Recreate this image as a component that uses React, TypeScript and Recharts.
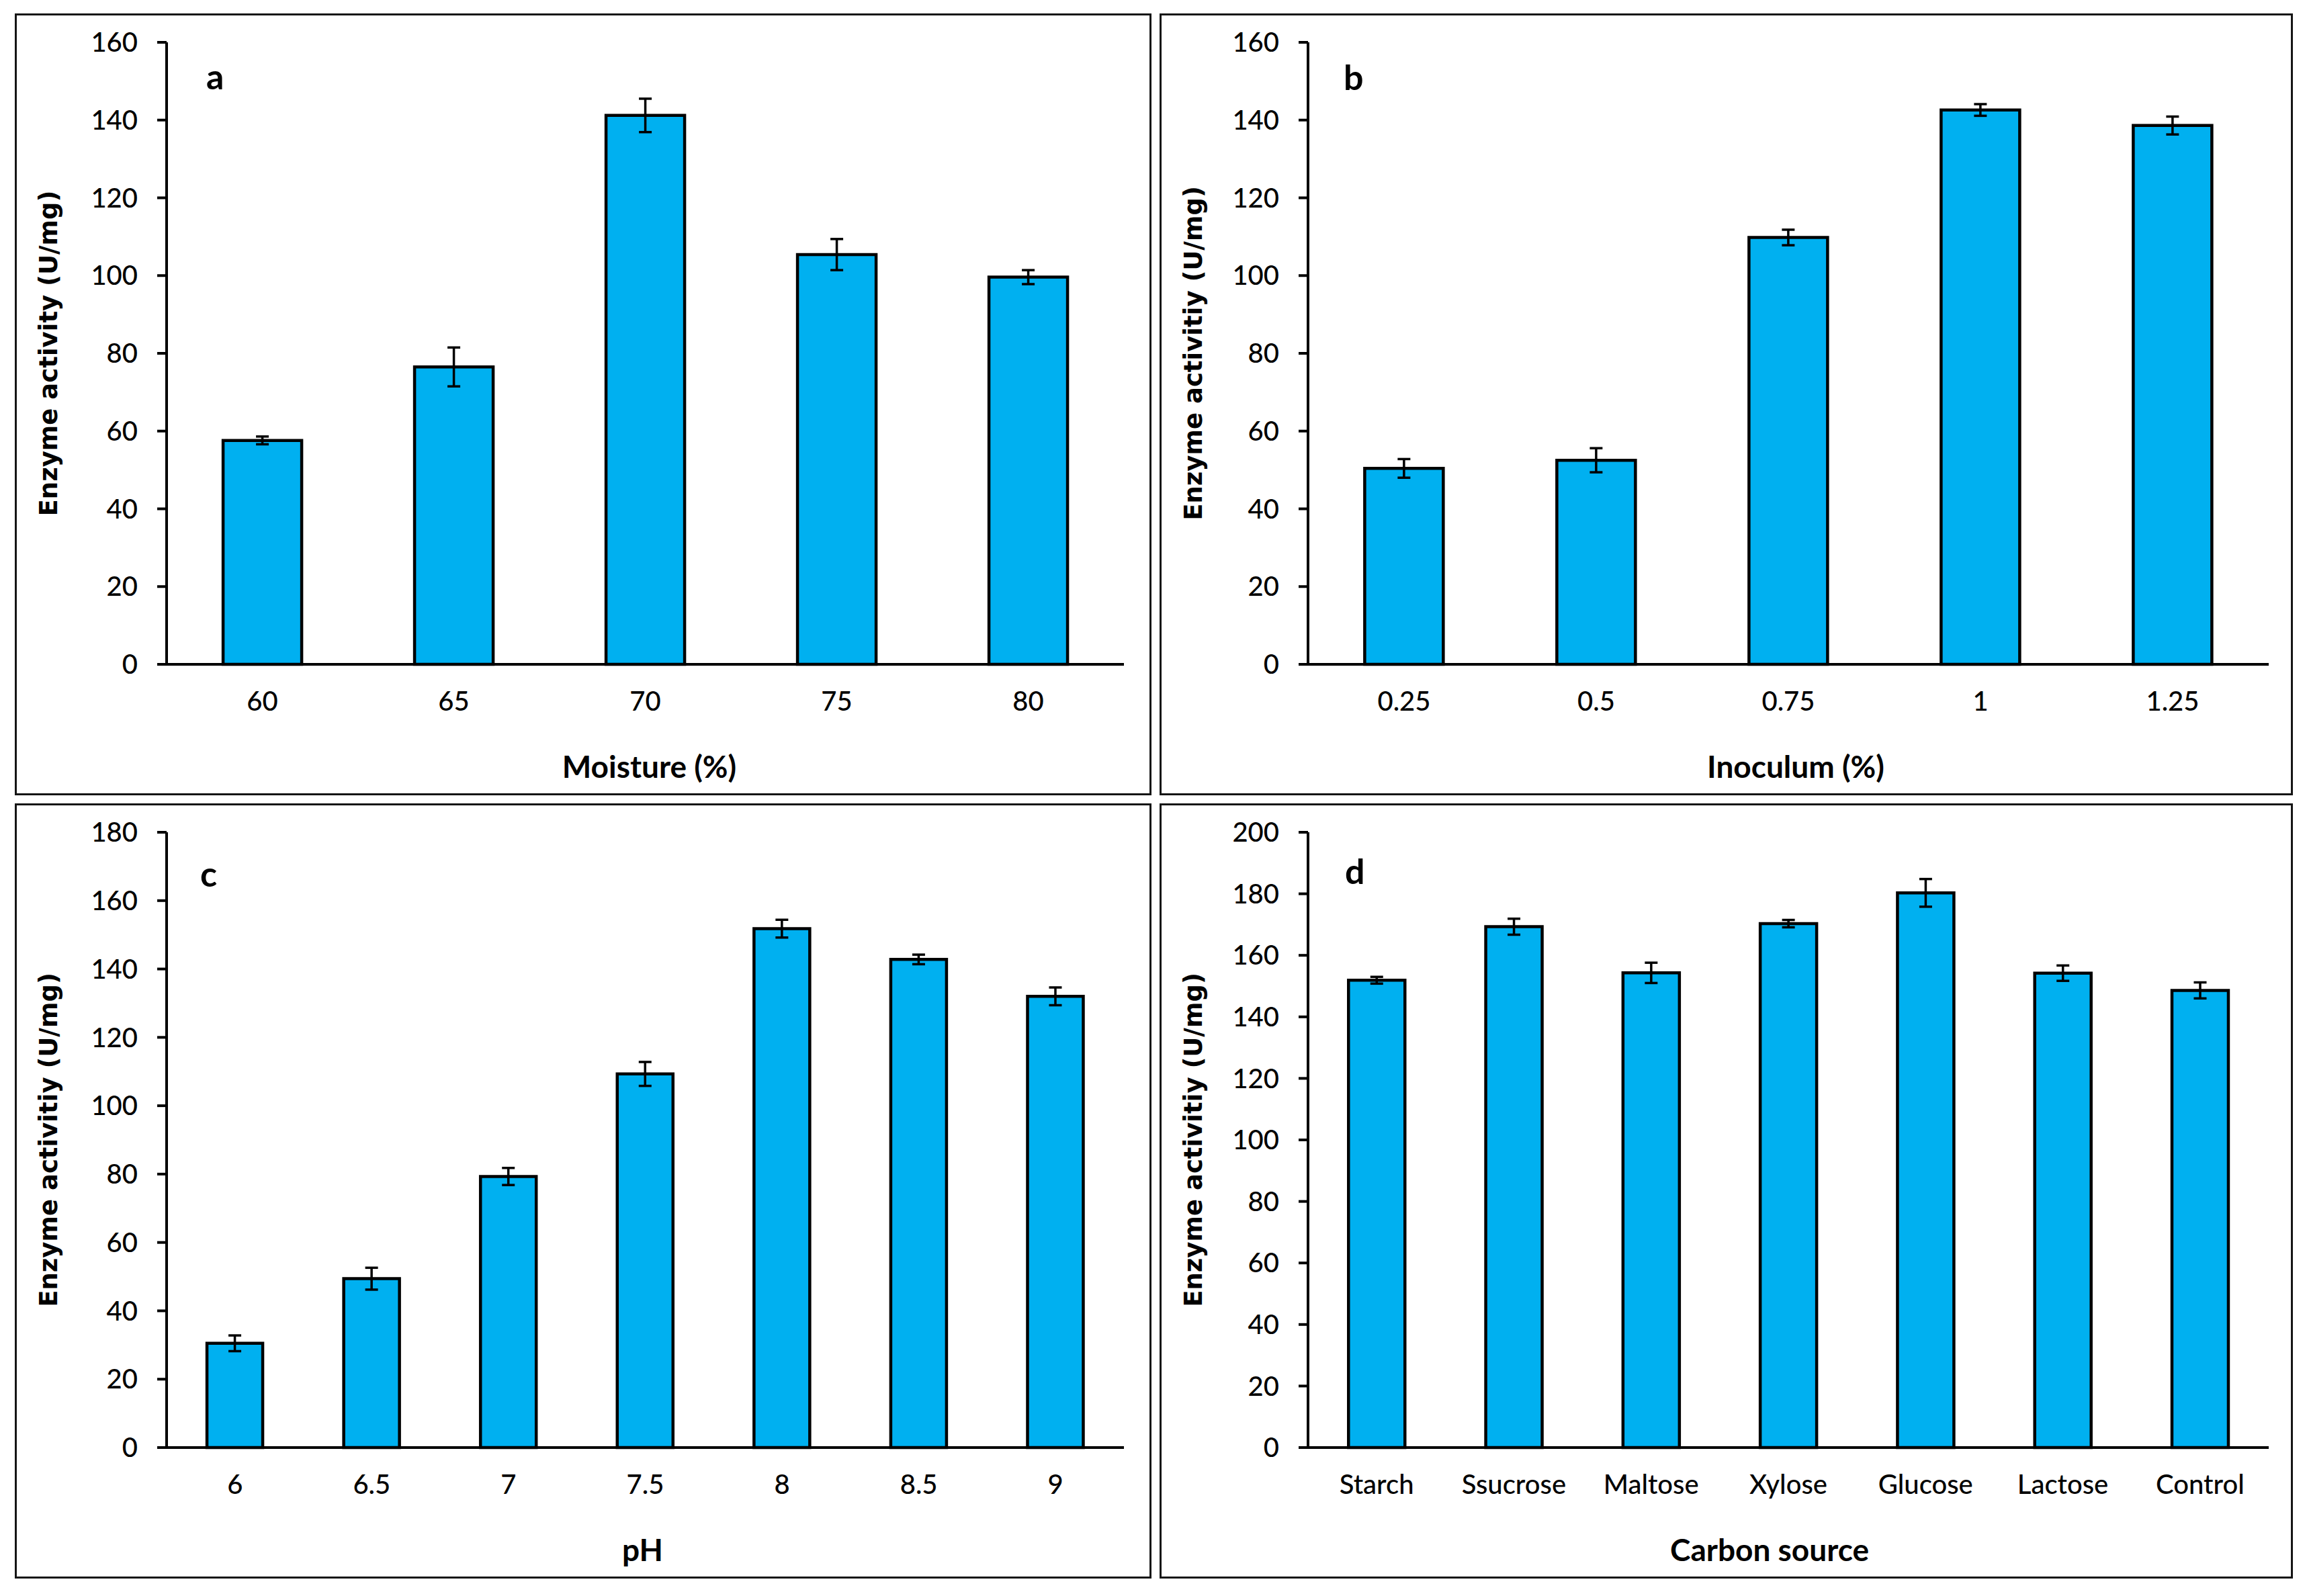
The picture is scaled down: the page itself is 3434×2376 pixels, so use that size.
import React from 'react';
import { BarChart, Bar, XAxis, YAxis, ErrorBar, Label } from 'recharts';

// ---- Data ----
const moistureCats = ['60', '65', '70', '75', '80'];
const moistureVals = [57.6, 76.5, 141.2, 105.4, 99.6];
const moistureErr = [1.0, 5.0, 4.3, 4.0, 1.8];

const inoculumCats = ['0.25', '0.5', '0.75', '1', '1.25'];
const inoculumVals = [50.4, 52.5, 109.8, 142.6, 138.6];
const inoculumErr = [2.4, 3.1, 2.0, 1.5, 2.3];

const phCats = ['6', '6.5', '7', '7.5', '8', '8.5', '9'];
const phVals = [30.5, 49.4, 79.3, 109.3, 151.8, 142.8, 132.0];
const phErr = [2.3, 3.2, 2.5, 3.5, 2.6, 1.4, 2.6];

const carbonCats = ['Starch', 'Ssucrose', 'Maltose', 'Xylose', 'Glucose', 'Lactose', 'Control'];
const carbonVals = [151.9, 169.3, 154.3, 170.3, 180.3, 154.2, 148.6];
const carbonErr = [1.1, 2.6, 3.3, 1.2, 4.5, 2.5, 2.6];

const ticks160 = [0, 20, 40, 60, 80, 100, 120, 140, 160];
const ticks180 = [0, 20, 40, 60, 80, 100, 120, 140, 160, 180];
const ticks200 = [0, 20, 40, 60, 80, 100, 120, 140, 160, 180, 200];

const build = (cats: string[], vals: number[], errs: number[]) =>
  cats.map((c, i) => ({ cat: c, value: vals[i], err: errs[i] }));

const TICK_FONT = 'Lato, "Liberation Sans", sans-serif';
const YTITLE_FONT = '"DejaVu Sans", Verdana, sans-serif';

type PanelProps = {
  left: number;
  top: number;
  width: number;
  height: number;
  axisX: number;
  plotRight: number;
  plotTop: number;
  plotBottom: number;
  data: { cat: string; value: number; err: number }[];
  ticks: number[];
  letter: string;
  letterX: number;
  letterY: number;
  xTitle: string;
  xTitleDx: number;
  yTitle: string;
};

function Panel(p: PanelProps) {
  const plotMidY = p.plotTop + (p.plotBottom - p.plotTop) / 2;
  const yTitleX = 50;
  const yMax = p.ticks[p.ticks.length - 1];
  return (
    <div style={{ position: 'absolute', left: p.left, top: p.top, width: p.width, height: p.height }}>
      <div
        style={{
          position: 'absolute',
          left: 0,
          top: 0,
          width: p.width,
          height: p.height,
          border: '3px solid #151515',
          boxSizing: 'border-box',
        }}
      />
      <div style={{ position: 'absolute', left: 0, top: 0 }}>
        <BarChart
          width={p.width}
          height={p.height}
          data={p.data}
          margin={{ top: p.plotTop, right: p.width - p.plotRight, left: 0, bottom: 0 }}
          barCategoryGap="29.5%"
        >
          <XAxis
            dataKey="cat"
            type="category"
            interval={0}
            height={p.height - p.plotBottom}
            tickLine={false}
            tickSize={0}
            tickMargin={41}
            axisLine={{ stroke: '#000', strokeWidth: 4 }}
            tick={{ fontFamily: TICK_FONT, fontSize: 40, fontWeight: 500, fill: '#000' }}
          >
            <Label
              content={(props: any) => {
                const vb = props.viewBox || {};
                const cx = vb.x + vb.width / 2 + p.xTitleDx;
                const cy = vb.y + 151;
                return (
                  <text
                    x={cx}
                    y={cy}
                    textAnchor="middle"
                    dominantBaseline="central"
                    fontFamily={TICK_FONT}
                    fontWeight={700}
                    fontSize={46}
                    fill="#000"
                  >
                    {p.xTitle}
                  </text>
                );
              }}
            />
          </XAxis>
          <YAxis
            type="number"
            domain={[0, yMax]}
            ticks={p.ticks}
            interval={0}
            width={p.axisX}
            tickSize={14}
            tickMargin={29}
            tickLine={{ stroke: '#000', strokeWidth: 4 }}
            axisLine={{ stroke: '#000', strokeWidth: 4 }}
            tick={{ fontFamily: TICK_FONT, fontSize: 40, fontWeight: 500, fill: '#000' }}
          >
            <Label
              content={() => (
                <g>
                  <text
                    x={yTitleX}
                    y={plotMidY}
                    transform={`rotate(-90 ${yTitleX} ${plotMidY})`}
                    textAnchor="middle"
                    dominantBaseline="central"
                    fontFamily={YTITLE_FONT}
                    fontWeight={700}
                    fontSize={37}
                    fill="#000"
                  >
                    {p.yTitle}
                  </text>
                  <text
                    x={p.letterX}
                    y={p.letterY}
                    textAnchor="start"
                    fontFamily={TICK_FONT}
                    fontWeight={700}
                    fontSize={52}
                    fill="#000"
                  >
                    {p.letter}
                  </text>
                </g>
              )}
            />
          </YAxis>
          <Bar dataKey="value" fill="#00B0F0" stroke="#000" strokeWidth={4.5} isAnimationActive={false}>
            <ErrorBar dataKey="err" width={9.5} strokeWidth={3.5} stroke="#000" direction="y" />
          </Bar>
        </BarChart>
      </div>
    </div>
  );
}

export default function App() {
  return (
    <div style={{ position: 'absolute', left: 0, top: 0, width: 3434, height: 2376, background: '#fff' }}>
      <Panel
        left={22}
        top={20}
        width={1692}
        height={1164}
        axisX={226}
        plotRight={1651}
        plotTop={43}
        plotBottom={969}
        data={build(moistureCats, moistureVals, moistureErr)}
        ticks={ticks160}
        letter="a"
        letterX={285}
        letterY={113}
        xTitle="Moisture (%)"
        xTitleDx={6}
        yTitle="Enzyme activity (U/mg)"
      />
      <Panel
        left={1726}
        top={20}
        width={1687}
        height={1164}
        axisX={221}
        plotRight={1651}
        plotTop={43}
        plotBottom={969}
        data={build(inoculumCats, inoculumVals, inoculumErr)}
        ticks={ticks160}
        letter="b"
        letterX={274}
        letterY={114}
        xTitle="Inoculum (%)"
        xTitleDx={11}
        yTitle="Enzyme activitiy (U/mg)"
      />
      <Panel
        left={22}
        top={1196}
        width={1692}
        height={1154}
        axisX={226}
        plotRight={1651}
        plotTop={43}
        plotBottom={959}
        data={build(phCats, phVals, phErr)}
        ticks={ticks180}
        letter="c"
        letterX={276}
        letterY={124}
        xTitle="pH"
        xTitleDx={-4}
        yTitle="Enzyme activitiy (U/mg)"
      />
      <Panel
        left={1726}
        top={1196}
        width={1687}
        height={1154}
        axisX={221}
        plotRight={1651}
        plotTop={43}
        plotBottom={959}
        data={build(carbonCats, carbonVals, carbonErr)}
        ticks={ticks200}
        letter="d"
        letterX={276}
        letterY={120}
        xTitle="Carbon source"
        xTitleDx={-28}
        yTitle="Enzyme activitiy (U/mg)"
      />
    </div>
  );
}
